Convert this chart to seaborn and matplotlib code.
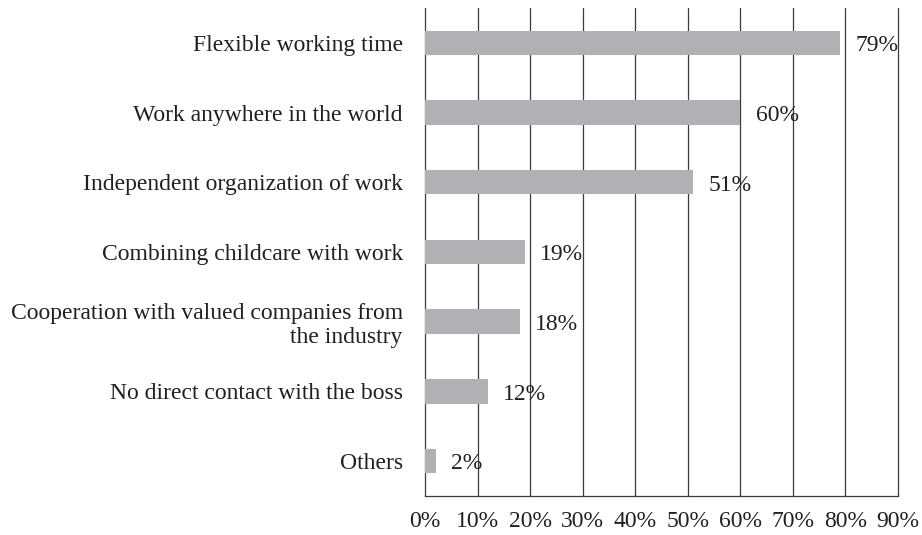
import matplotlib
matplotlib.use("Agg")
import matplotlib.pyplot as plt
import seaborn as sns
import pandas as pd

categories = [
    "Flexible working time",
    "Work anywhere in the world",
    "Independent organization of work",
    "Combining childcare with work",
    "Cooperation with valued companies from\nthe industry",
    "No direct contact with the boss",
    "Others",
]
values = [79, 60, 51, 19, 18, 12, 2]
xticks = [0, 10, 20, 30, 40, 50, 60, 70, 80, 90]
xtick_labels = [f"{t}%" for t in xticks]

sns.set_theme(style="white")
plt.rcParams["font.family"] = ["Liberation Serif", "DejaVu Serif"]

df = pd.DataFrame({"cat": categories, "val": values})

FS = 17
fig = plt.figure(figsize=(9.22, 5.35), dpi=100)
ax = fig.add_axes([0.461, 0.073, 0.513, 0.912])
sns.barplot(data=df, x="val", y="cat", orient="h", color="#B0B1B4",
            saturation=1, width=0.35, ax=ax, zorder=3, linewidth=0,
            edgecolor="none")

ax.set_xlim(0, 90)
ax.set_ylim(6.5, -0.5)
ax.set_xticks(xticks)
ax.set_xticklabels(xtick_labels, fontsize=FS, color="#231F20")
ax.tick_params(axis="x", length=0, pad=11)
ax.tick_params(axis="y", length=0, pad=16, labelsize=FS, labelcolor="#231F20")
for lbl in ax.get_yticklabels():
    lbl.set_horizontalalignment("right")
    lbl.set_multialignment("right")
ax.set_xlabel("")
ax.set_ylabel("")
ax.grid(False)
for t in xticks:
    ax.axvline(t, color="#3A3A3A", lw=0.9, zorder=1, clip_on=False)
for s in ["top", "right", "left"]:
    ax.spines[s].set_visible(False)
ax.spines["bottom"].set_color("#3A3A3A")
ax.spines["bottom"].set_linewidth(0.9)

for p, v in zip(ax.patches, values):
    ax.annotate(f"{v}%", xy=(p.get_x() + p.get_width(), p.get_y() + p.get_height() / 2),
                xytext=(11, -2), textcoords="offset points", ha="left", va="center",
                fontsize=FS, color="#231F20", zorder=4)

fig.savefig("out.png", dpi=100, facecolor="white")
